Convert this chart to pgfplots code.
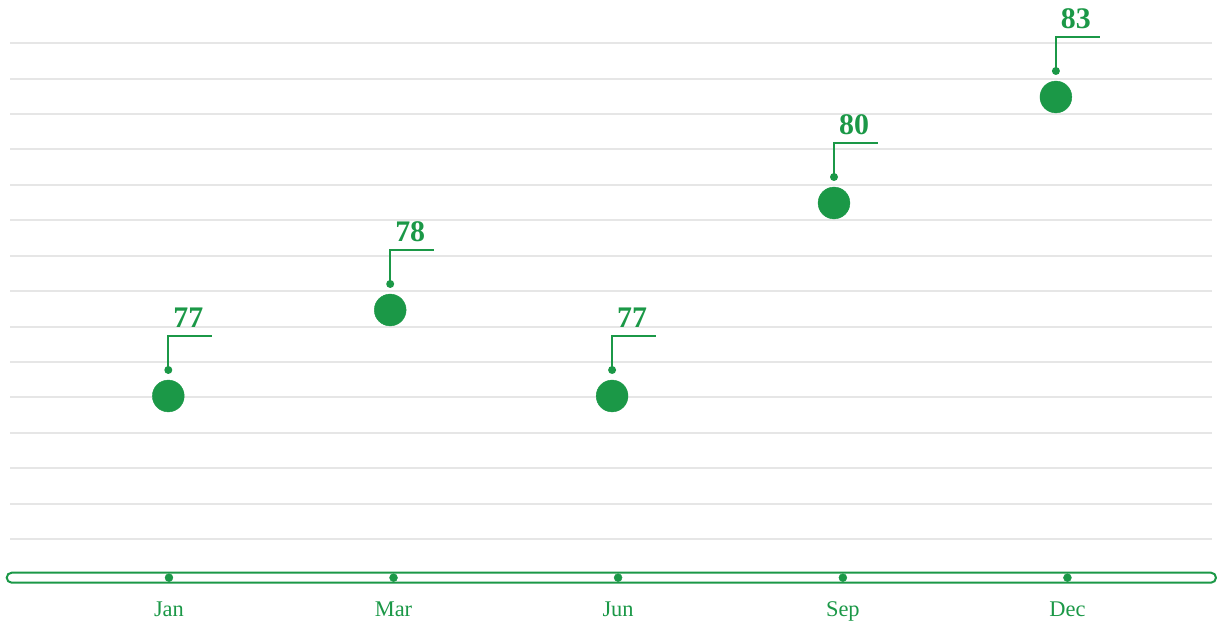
\documentclass[border=0pt]{standalone}
\usepackage{fontspec}
\setmainfont{Liberation Serif}
\usepackage{pgfplots}
\pgfplotsset{compat=1.18}
\definecolor{grn}{RGB}{27,152,71}
\definecolor{gridc}{RGB}{230,230,230}
\pgfdeclareplotmark{callout}{%
  \pgfsetlinewidth{2bp}%
  \pgfpathmoveto{\pgfpoint{0bp}{26bp}}%
  \pgfpathlineto{\pgfpoint{0bp}{59.5bp}}%
  \pgfpathlineto{\pgfpoint{44bp}{59.5bp}}%
  \pgfusepathqstroke
  \pgfpathcircle{\pgfpoint{0bp}{26bp}}{4bp}%
  \pgfusepathqfill
}
\begin{document}
\begin{tikzpicture}
\path (0bp,0bp) rectangle (1217bp,625bp);
\begin{axis}[at={(10bp,47.3bp)}, anchor=south west, scale only axis,
  width=1202bp, height=534.7bp,
  xmin=-0.7134, xmax=4.7035, ymin=72.966, ymax=83.66, clip=false,
  axis line style={draw=none}, tick style={draw=none},
  ytick={73.74,74.448,75.156,75.865,76.573,77.281,77.989,78.697,79.406,80.114,80.822,81.530,82.238,82.947,83.655},
  yticklabels={}, ymajorgrids, major grid style={gridc, line width=2bp},
  xtick={0.003,1.015,2.027,3.040,4.052}, xticklabels={Jan,Mar,Jun,Sep,Dec},
  xticklabel style={anchor=base, yshift=-39.3bp, text=grn, font=\fontsize{22.5}{27}\selectfont},
  /pgf/number format/assume math mode=true,
]
\draw[grn, line width=2bp, fill=white, rounded corners=5bp] (axis cs:-0.7283,72.866) rectangle (axis cs:4.7215,73.066);
\addplot[only marks, mark=*, mark size=4, grn, mark options={fill=grn, draw=none}]
  coordinates {(0.003,72.966) (1.015,72.966) (2.027,72.966) (3.040,72.966) (4.052,72.966)};
\addplot[only marks, mark=*, mark size=16, grn, mark options={draw=none, fill=grn}]
  coordinates {(0,76.6) (1,78.32) (2,76.6) (3,80.46) (4,82.58)};
\addplot[only marks, mark=callout, grn, point meta=y, nodes near coords,
  nodes near coords style={/pgf/number format/fixed, /pgf/number format/precision=0,
    /pgf/number format/assume math mode=true,
    anchor=base, xshift=20bp, yshift=68bp, text=grn, font=\bfseries\fontsize{30}{36}\selectfont}]
  coordinates {(0,76.6) (1,78.32) (2,76.6) (3,80.46) (4,82.58)};
\end{axis}
\end{tikzpicture}
\end{document}
